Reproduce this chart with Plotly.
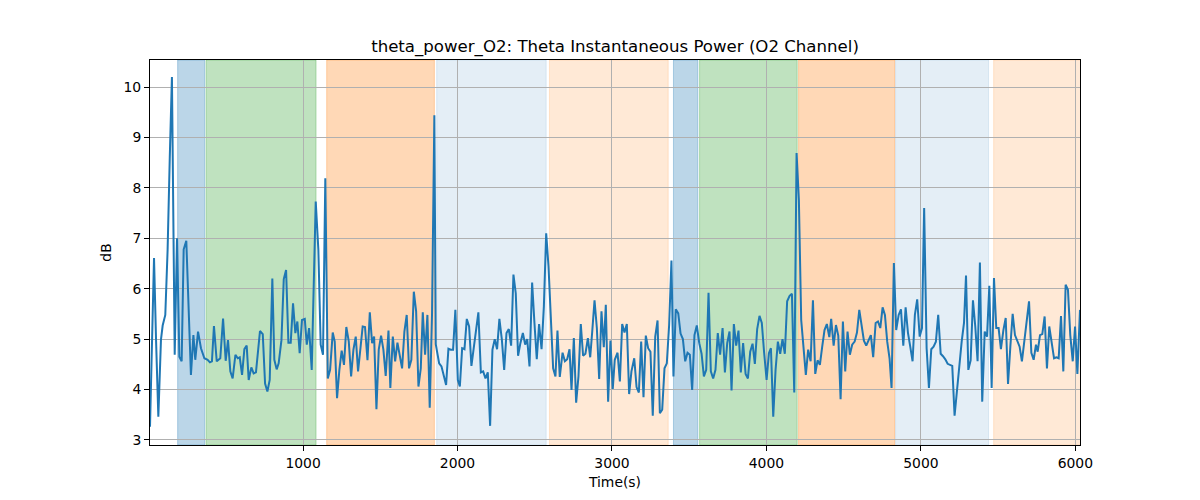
import plotly.graph_objects as go

# ---- data ----
time_s = [9, 35, 48, 63, 80, 91, 108, 123, 137, 151, 169, 184, 199, 214, 227, 244, 274, 290, 302, 320,
          339, 361, 382, 397, 410, 423, 441, 464, 482, 499, 514, 529, 544, 562, 577, 590, 605, 620, 635, 648,
          665, 680, 695, 708, 721, 739, 754, 769, 784, 801, 814, 829, 842, 860, 875, 890, 905, 920, 935, 950,
          963, 978, 993, 1011, 1024, 1039, 1056, 1082, 1099, 1114, 1129, 1144, 1160, 1175, 1192, 1205, 1220, 1235, 1250, 1265,
          1280, 1296, 1311, 1326, 1341, 1356, 1371, 1386, 1401, 1417, 1432, 1447, 1460, 1475, 1490, 1505, 1520, 1535, 1553, 1565,
          1581, 1596, 1611, 1626, 1641, 1656, 1671, 1686, 1701, 1717, 1732, 1747, 1762, 1775, 1790, 1805, 1820, 1835, 1850, 1859,
          1881, 1896, 1911, 1926, 1941, 1956, 1971, 1986, 2002, 2015, 2030, 2045, 2060, 2075, 2090, 2105, 2120, 2135, 2151, 2166,
          2181, 2196, 2211, 2226, 2241, 2256, 2271, 2287, 2302, 2317, 2332, 2347, 2362, 2377, 2392, 2407, 2423, 2438, 2451, 2466,
          2483, 2498, 2513, 2528, 2544, 2559, 2574, 2589, 2604, 2619, 2634, 2647, 2662, 2680, 2695, 2710, 2725, 2738, 2753, 2768,
          2783, 2798, 2813, 2828, 2844, 2859, 2872, 2887, 2902, 2917, 2932, 2947, 2960, 2975, 2990, 3005, 3018, 3036, 3051, 3066,
          3081, 3096, 3111, 3126, 3144, 3159, 3174, 3189, 3204, 3219, 3234, 3249, 3264, 3280, 3295, 3310, 3325, 3340, 3355, 3370,
          3385, 3398, 3413, 3429, 3444, 3459, 3474, 3489, 3504, 3519, 3534, 3549, 3565, 3580, 3595, 3610, 3625, 3640, 3655, 3670,
          3685, 3700, 3716, 3731, 3746, 3761, 3774, 3789, 3804, 3819, 3834, 3849, 3865, 3880, 3895, 3910, 3925, 3940, 3955, 3970,
          3985, 4001, 4016, 4029, 4044, 4059, 4074, 4089, 4104, 4119, 4134, 4150, 4165, 4180, 4195, 4210, 4225, 4240, 4255, 4270,
          4286, 4301, 4316, 4331, 4346, 4361, 4376, 4391, 4407, 4419, 4435, 4450, 4465, 4480, 4495, 4510, 4525, 4540, 4555, 4571,
          4586, 4601, 4616, 4631, 4646, 4661, 4676, 4691, 4707, 4722, 4737, 4752, 4767, 4782, 4797, 4810, 4825, 4840, 4856, 4871,
          4886, 4901, 4916, 4931, 4946, 4961, 4976, 4992, 5007, 5021, 5037, 5052, 5067, 5082, 5097, 5112, 5128, 5143, 5158, 5173,
          5188, 5203, 5218, 5233, 5248, 5264, 5279, 5292, 5307, 5322, 5337, 5352, 5367, 5382, 5397, 5413, 5428, 5443, 5458, 5473,
          5488, 5503, 5518, 5534, 5549, 5564, 5579, 5594, 5609, 5624, 5639, 5654, 5670, 5685, 5700, 5715, 5730, 5745, 5756, 5771,
          5786, 5801, 5816, 5831, 5847, 5862, 5877, 5892, 5907, 5922, 5937, 5952, 5967, 5983, 5998, 6013, 6030]

theta_db = [3.26, 6.61, 5.00, 3.46, 4.99, 5.27, 5.48, 6.77, 8.60, 10.20, 4.69, 7.00, 4.65, 4.56, 6.78, 6.95, 4.29, 5.08, 4.59, 5.15,
            4.82, 4.62, 4.59, 4.54, 4.56, 5.26, 4.56, 4.62, 5.41, 4.57, 4.98, 4.36, 4.22, 4.69, 4.62, 4.64, 4.29, 4.80, 4.87, 4.19,
            4.44, 4.32, 4.34, 4.75, 5.16, 5.10, 4.12, 3.96, 4.19, 6.20, 4.59, 4.40, 4.52, 4.98, 6.19, 6.37, 4.93, 4.93, 5.71, 5.12,
            5.35, 4.72, 5.38, 5.40, 4.89, 5.22, 4.39, 7.73, 6.77, 4.89, 4.69, 8.19, 4.22, 4.39, 5.13, 4.95, 3.83, 4.39, 4.77, 4.49,
            5.24, 4.95, 4.26, 4.79, 5.05, 4.36, 4.75, 5.25, 5.24, 4.58, 5.53, 4.92, 5.05, 3.61, 4.79, 5.07, 4.79, 4.27, 5.17, 4.03,
            5.05, 4.56, 4.93, 4.71, 4.42, 5.15, 5.48, 4.42, 4.59, 5.94, 5.55, 4.06, 4.42, 5.53, 4.69, 5.48, 3.64, 5.51, 9.44, 4.90,
            4.52, 4.46, 4.26, 4.09, 4.81, 4.79, 4.79, 5.58, 4.19, 4.06, 4.82, 4.80, 5.40, 5.25, 4.47, 4.89, 5.18, 5.53, 4.34, 4.36,
            4.22, 4.34, 3.28, 4.79, 5.00, 4.80, 5.40, 4.99, 4.39, 5.12, 5.20, 4.87, 6.28, 5.91, 4.67, 4.92, 5.12, 4.89, 5.00, 4.46,
            6.12, 5.32, 4.60, 5.30, 4.80, 5.65, 7.10, 6.44, 5.32, 4.42, 4.26, 5.17, 4.25, 4.73, 4.56, 4.60, 4.80, 3.99, 5.02, 3.74,
            4.26, 5.30, 4.67, 4.71, 5.02, 4.64, 5.15, 5.77, 5.22, 4.21, 5.55, 4.84, 5.68, 3.76, 4.97, 4.01, 4.59, 4.73, 4.16, 5.30,
            5.13, 5.30, 3.91, 4.36, 4.62, 4.05, 3.94, 4.95, 3.85, 5.07, 4.82, 4.75, 3.48, 5.05, 5.37, 3.53, 3.60, 4.42, 4.52, 5.28,
            6.56, 4.26, 5.59, 5.51, 5.11, 5.00, 4.56, 4.73, 4.69, 3.99, 5.08, 5.27, 4.92, 4.71, 4.26, 4.39, 5.92, 4.36, 4.22, 4.39,
            5.12, 4.69, 5.22, 4.34, 4.92, 5.15, 3.98, 5.30, 4.87, 5.17, 4.34, 4.92, 4.31, 4.22, 4.75, 4.91, 4.51, 5.20, 5.46, 5.32,
            4.73, 4.19, 4.72, 4.82, 3.46, 4.39, 4.95, 4.71, 5.00, 4.71, 5.75, 5.86, 5.90, 3.94, 8.69, 7.76, 5.38, 4.82, 4.29, 4.79,
            4.56, 5.77, 4.31, 4.58, 4.49, 4.85, 5.18, 5.30, 5.04, 5.40, 4.87, 5.28, 5.07, 3.81, 5.35, 4.36, 5.15, 4.69, 4.89, 4.95,
            5.13, 5.58, 5.25, 4.97, 4.87, 4.99, 5.08, 4.64, 5.32, 5.35, 5.22, 5.63, 5.48, 4.95, 4.62, 4.03, 6.51, 5.18, 5.48, 5.59,
            4.87, 5.63, 5.13, 4.85, 4.56, 5.48, 5.79, 5.05, 5.22, 7.60, 4.82, 4.03, 4.80, 4.85, 4.95, 5.48, 4.71, 4.66, 4.60, 4.51,
            4.49, 4.47, 3.48, 3.99, 4.49, 4.95, 5.32, 6.26, 4.39, 4.58, 5.77, 5.25, 4.56, 6.52, 3.76, 5.15, 5.05, 6.06, 4.03, 6.21,
            5.22, 5.22, 4.80, 5.18, 5.42, 4.11, 4.85, 5.50, 5.08, 4.95, 4.85, 4.56, 4.99, 5.45, 5.75, 4.73, 4.59, 4.89, 4.75, 5.08,
            5.10, 5.45, 4.42, 5.25, 4.92, 4.62, 4.64, 4.62, 5.46, 4.36, 6.08, 5.98, 5.08, 4.56, 5.25, 4.31, 5.58]

# shaded phases: start, end, colour
span_start = [188, 372, 1153, 1865, 2595, 3398, 3567, 4208, 4836, 5471]
span_end = [363, 1084, 1850, 2574, 3364, 3556, 4199, 4830, 5438, 6040]
span_color = ["rgba(31,119,180,0.3)", "rgba(44,160,44,0.3)", "rgba(255,127,14,0.3)", "rgba(31,119,180,0.12)",
              "rgba(255,127,14,0.17)", "rgba(31,119,180,0.3)", "rgba(44,160,44,0.3)", "rgba(255,127,14,0.3)",
              "rgba(31,119,180,0.12)", "rgba(255,127,14,0.17)"]

x_ticks = [1000, 2000, 3000, 4000, 5000, 6000]
y_ticks = [3, 4, 5, 6, 7, 8, 9, 10]

fig = go.Figure()
fig.add_trace(go.Scatter(x=time_s, y=theta_db, mode="lines",
                         line=dict(color="#1f77b4", width=2), showlegend=False))

for s, e, c in zip(span_start, span_end, span_color):
    fig.add_shape(type="rect", xref="x", yref="paper", x0=s, x1=e, y0=0, y1=1,
                  fillcolor=c, line=dict(color=c, width=1), layer="below")

axis_common = dict(showline=True, linecolor="black", linewidth=1, mirror=True,
                   ticks="outside", ticklen=5, tickcolor="black", tickwidth=1,
                   showgrid=True, gridcolor="#b0b0b0", gridwidth=1, zeroline=False,
                   tickfont=dict(size=13.9, color="black"))

fig.update_layout(
    width=1200, height=500,
    margin=dict(l=142, r=128, t=52, b=63),
    paper_bgcolor="white", plot_bgcolor="rgba(0,0,0,0)",
    font=dict(family="DejaVu Sans", color="black"),
    title=dict(text="theta_power_O2: Theta Instantaneous Power (O2 Channel)",
               xref="paper", x=0.5, xanchor="center", yref="container", y=0.924, yanchor="middle",
               font=dict(size=16.6, color="black")),
    xaxis=dict(range=[9, 6030], tickvals=x_ticks,
               title=dict(text="Time(s)", font=dict(size=13.9), standoff=7), **axis_common),
    yaxis=dict(range=[2.90, 10.536], tickvals=y_ticks,
               title=dict(text="dB", font=dict(size=13.9), standoff=8), **axis_common),
)

fig.write_html("out.html")
